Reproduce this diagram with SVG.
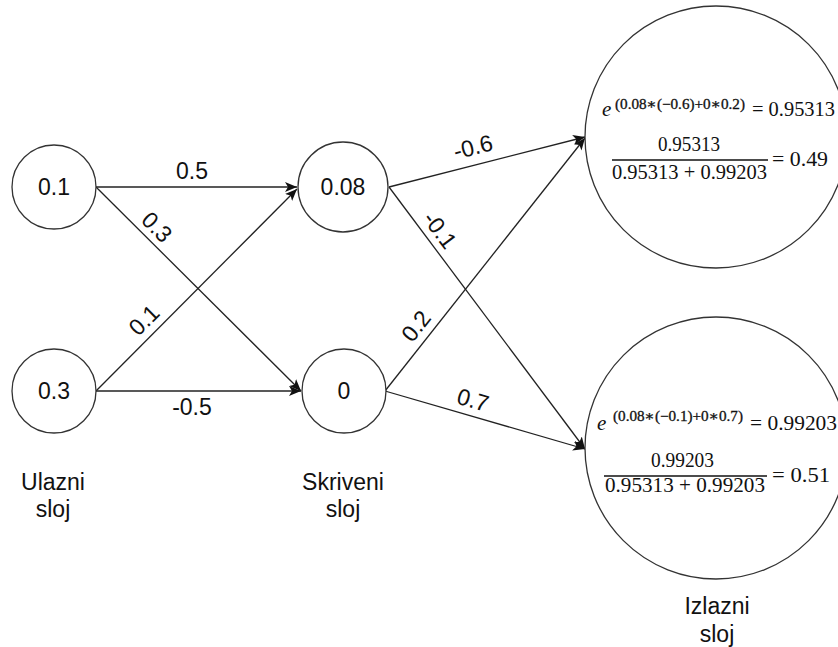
<svg xmlns="http://www.w3.org/2000/svg" width="838" height="647" viewBox="0 0 838 647">
<defs>
<style>
.node{fill:#fff;stroke:#333;stroke-width:1.3}
.edge{stroke:#222;stroke-width:1.3;fill:none;marker-end:url(#arr)}
.t{font-family:"Liberation Sans",Arial,sans-serif;font-size:23px;fill:#111;text-anchor:middle}
.m{font-family:"Liberation Serif","DejaVu Serif",serif;font-size:21px;fill:#111}
.sup{font-family:"Liberation Serif","DejaVu Serif",serif;font-size:14.5px;fill:#111;stroke:#111;stroke-width:0.3}
</style>
<marker id="arr" markerWidth="13" markerHeight="11" refX="12" refY="5" orient="auto" markerUnits="userSpaceOnUse">
<path d="M0,0 L12,5 L0,10 L3,5 z" fill="#111"/>
</marker>
</defs>
<rect width="838" height="647" fill="#fff"/>
<g id="connectors">
<line class="edge" x1="96" y1="187" x2="297" y2="187"/>
<line class="edge" x1="96" y1="187" x2="301" y2="391"/>
<line class="edge" x1="96" y1="391" x2="297" y2="189"/>
<line class="edge" x1="96" y1="391" x2="301" y2="391"/>
<line class="edge" x1="389" y1="187" x2="585" y2="137"/>
<line class="edge" x1="389" y1="187" x2="585" y2="449"/>
<line class="edge" x1="385" y1="391" x2="585" y2="138"/>
<line class="edge" x1="385" y1="391" x2="585" y2="449"/>
<text class="t" x="192" y="179">0.5</text>
<text class="t" x="192" y="415">-0.5</text>
<text class="t" transform="translate(157,227) rotate(45)" y="8">0.3</text>
<text class="t" transform="translate(144,320) rotate(-45)" y="8">0.1</text>
<text class="t" transform="translate(473,147) rotate(-14)" y="8">-0.6</text>
<text class="t" transform="translate(440,230) rotate(53)" y="8">-0.1</text>
<text class="t" transform="translate(416,326) rotate(-52)" y="8">0.2</text>
<text class="t" transform="translate(473,400) rotate(16)" y="8">0.7</text>
</g>
<g id="in1"><circle class="node" cx="54" cy="187" r="42"/><text class="t" x="54" y="195">0.1</text></g>
<g id="in2"><circle class="node" cx="54" cy="391" r="42"/><text class="t" x="54" y="399">0.3</text></g>
<g id="h1"><circle class="node" cx="343" cy="187" r="45"/><text class="t" x="343" y="195">0.08</text></g>
<g id="h2"><circle class="node" cx="344" cy="391" r="42"/><text class="t" x="344" y="399">0</text></g>
<g id="out1">
<circle class="node" cx="716" cy="137" r="131"/>
<text class="m" x="602" y="116" font-style="italic" font-size="23">e</text>
<text class="sup" x="615" y="109" textLength="130" lengthAdjust="spacingAndGlyphs">(0.08∗(−0.6)+0∗0.2)</text>
<text class="m" x="752" y="116" textLength="83" lengthAdjust="spacingAndGlyphs">= 0.95313</text>
<text class="m" x="658" y="151" textLength="62" lengthAdjust="spacingAndGlyphs">0.95313</text>
<line x1="612" y1="160" x2="768" y2="160" stroke="#111" stroke-width="1.4"/>
<text class="m" x="612" y="179" textLength="155" lengthAdjust="spacingAndGlyphs">0.95313 + 0.99203</text>
<text class="m" x="772" y="166" textLength="56" lengthAdjust="spacingAndGlyphs">= 0.49</text>
</g>
<g id="out2">
<circle class="node" cx="716" cy="448" r="131"/>
<text class="m" x="597" y="430" font-style="italic" font-size="23">e</text>
<text class="sup" x="613" y="421" textLength="130" lengthAdjust="spacingAndGlyphs">(0.08∗(−0.1)+0∗0.7)</text>
<text class="m" x="750" y="430" textLength="87" lengthAdjust="spacingAndGlyphs">= 0.99203</text>
<text class="m" x="651" y="467" textLength="63" lengthAdjust="spacingAndGlyphs">0.99203</text>
<line x1="604" y1="476" x2="767" y2="476" stroke="#111" stroke-width="1.4"/>
<text class="m" x="605" y="492" textLength="160" lengthAdjust="spacingAndGlyphs">0.95313 + 0.99203</text>
<text class="m" x="772" y="482" textLength="58" lengthAdjust="spacingAndGlyphs">= 0.51</text>
</g>
<g id="lbl-in"><text class="t" x="53" y="490">Ulazni</text><text class="t" x="53" y="517">sloj</text></g>
<g id="lbl-hid"><text class="t" x="343" y="490">Skriveni</text><text class="t" x="343" y="517">sloj</text></g>
<g id="lbl-out"><text class="t" x="717" y="614">Izlazni</text><text class="t" x="717" y="642">sloj</text></g>
</svg>
